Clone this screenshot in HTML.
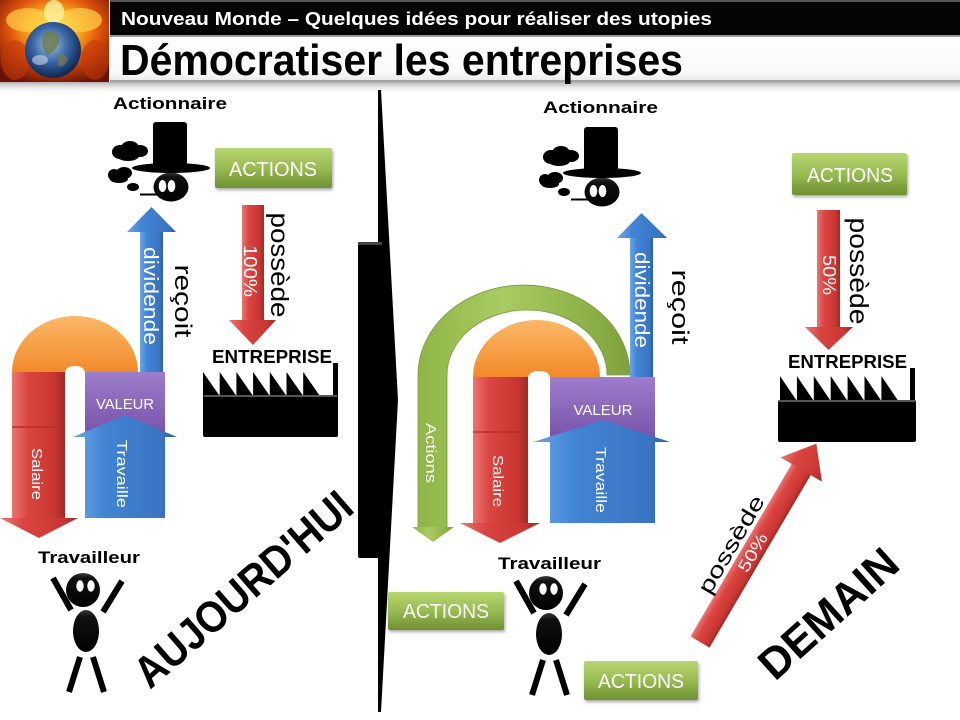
<!DOCTYPE html>
<html><head><meta charset="utf-8">
<style>html,body{margin:0;padding:0;background:#fff;}svg{display:block}</style>
</head>
<body>
<svg width="960" height="720" viewBox="0 0 960 720" xmlns="http://www.w3.org/2000/svg" xmlns:xlink="http://www.w3.org/1999/xlink" font-family="'Liberation Sans', sans-serif">
<defs>
  <linearGradient id="gRedH" x1="0" y1="0" x2="1" y2="0">
    <stop offset="0" stop-color="#ea7672"/><stop offset="0.3" stop-color="#db4541"/><stop offset="0.8" stop-color="#c93632"/><stop offset="1" stop-color="#a02a27"/>
  </linearGradient>
  <linearGradient id="gRedV" x1="0" y1="0" x2="0" y2="1">
    <stop offset="0" stop-color="#ea7672"/><stop offset="0.3" stop-color="#db4541"/><stop offset="0.8" stop-color="#c93632"/><stop offset="1" stop-color="#a02a27"/>
  </linearGradient>
  <linearGradient id="gBlueH" x1="0" y1="0" x2="1" y2="0">
    <stop offset="0" stop-color="#6aa6e8"/><stop offset="0.3" stop-color="#4284d4"/><stop offset="0.85" stop-color="#3a74c2"/><stop offset="1" stop-color="#2b5e9f"/>
  </linearGradient>
  <linearGradient id="gPurple" x1="0" y1="0" x2="0" y2="1">
    <stop offset="0" stop-color="#9d7ecb"/><stop offset="1" stop-color="#7550a8"/>
  </linearGradient>
  <linearGradient id="gOrange" x1="0" y1="0" x2="0" y2="1">
    <stop offset="0" stop-color="#fbb868"/><stop offset="1" stop-color="#f28a2a"/>
  </linearGradient>
  <linearGradient id="gGreen" x1="0" y1="0" x2="0" y2="1">
    <stop offset="0" stop-color="#b7d670"/><stop offset="0.5" stop-color="#98bb52"/><stop offset="1" stop-color="#6f9032"/>
  </linearGradient>
  <linearGradient id="gGreenH" x1="0" y1="0" x2="1" y2="0">
    <stop offset="0" stop-color="#8fb447"/><stop offset="0.4" stop-color="#a9cc62"/><stop offset="1" stop-color="#7fa23c"/>
  </linearGradient>
  <linearGradient id="gHead" x1="0" y1="0" x2="0" y2="1">
    <stop offset="0" stop-color="#3a3a3a"/><stop offset="0.15" stop-color="#111"/><stop offset="1" stop-color="#000"/>
  </linearGradient>
  <linearGradient id="gWhiteBand" x1="0" y1="0" x2="0" y2="1">
    <stop offset="0" stop-color="#ffffff"/><stop offset="0.8" stop-color="#fafafa"/><stop offset="1" stop-color="#e6e6e6"/>
  </linearGradient>
  <linearGradient id="gShadow" x1="0" y1="0" x2="0" y2="1">
    <stop offset="0" stop-color="#b0b0b0"/><stop offset="1" stop-color="#ffffff" stop-opacity="0"/>
  </linearGradient>
  <radialGradient id="gFire" cx="0.5" cy="0.35" r="0.7">
    <stop offset="0" stop-color="#fff3a0"/><stop offset="0.3" stop-color="#ffb020"/><stop offset="0.6" stop-color="#e0520c"/><stop offset="1" stop-color="#6a1204"/>
  </radialGradient>
  <radialGradient id="gGlobe" cx="0.45" cy="0.4" r="0.6">
    <stop offset="0" stop-color="#a8c4e0"/><stop offset="0.5" stop-color="#3c6aa8"/><stop offset="1" stop-color="#0d2552"/>
  </radialGradient>
  <filter id="sh" x="-20%" y="-20%" width="140%" height="150%">
    <feDropShadow dx="1" dy="2" stdDeviation="1.5" flood-color="#000" flood-opacity="0.35"/>
  </filter>

  <g id="boss">
    <ellipse cx="120" cy="152" rx="8" ry="7"/>
    <ellipse cx="130" cy="148" rx="9" ry="7"/>
    <ellipse cx="140" cy="151" rx="8" ry="6"/>
    <ellipse cx="128" cy="156" rx="11" ry="5"/>
    <ellipse cx="114" cy="175" rx="6" ry="6"/>
    <ellipse cx="124" cy="173" rx="8" ry="6"/>
    <ellipse cx="119" cy="179" rx="9" ry="4"/>
    <ellipse cx="133" cy="187" rx="6" ry="4"/>
    <ellipse cx="171" cy="187" rx="17.5" ry="14.5" fill="url(#gHead)"/>
    <rect x="153" y="122" width="34" height="46" rx="3"/>
    <ellipse cx="171" cy="168" rx="39" ry="5"/>
    <ellipse cx="162.5" cy="186" rx="3.8" ry="6" fill="#fff"/>
    <ellipse cx="171.5" cy="186" rx="3.8" ry="6" fill="#fff"/>
    <line x1="140" y1="194.5" x2="158" y2="194.5" stroke="#000" stroke-width="2"/>
  </g>

  <g id="worker">
    <circle cx="83" cy="590" r="17" fill="url(#gHead)"/>
    <ellipse cx="80" cy="586" rx="3.7" ry="5.7" fill="#fff"/>
    <ellipse cx="91" cy="586" rx="3.7" ry="5.7" fill="#fff"/>
    <line x1="53" y1="578" x2="71" y2="610" stroke="#000" stroke-width="6"/>
    <line x1="122" y1="581" x2="103" y2="612" stroke="#000" stroke-width="6"/>
    <ellipse cx="86" cy="631" rx="13" ry="21" fill="url(#gHead)"/>
    <line x1="80" y1="657" x2="69" y2="692" stroke="#000" stroke-width="6"/>
    <line x1="93" y1="657" x2="104" y2="692" stroke="#000" stroke-width="6"/>
  </g>
</defs>

<rect x="0" y="0" width="960" height="720" fill="#fff"/>

<!-- HEADER -->
<rect x="0" y="82" width="960" height="12" fill="url(#gShadow)"/>
<rect x="110" y="0" width="850" height="35" fill="#050505"/>
<rect x="110" y="0" width="850" height="2" fill="#555"/>
<rect x="110" y="35" width="850" height="47" fill="url(#gWhiteBand)"/>
<rect x="110" y="35" width="850" height="2" fill="#9a9a9a"/>
<rect x="110" y="80" width="850" height="2" fill="#a0a0a0"/>
<text x="121" y="25" fill="#fff" font-weight="bold" font-size="18" textLength="591" lengthAdjust="spacingAndGlyphs">Nouveau Monde – Quelques idées pour réaliser des utopies</text>
<text x="120" y="75" fill="#000" font-weight="bold" font-size="44" textLength="563" lengthAdjust="spacingAndGlyphs">Démocratiser les entreprises</text>

<!-- LOGO -->
<rect x="0" y="0" width="109" height="82" fill="url(#gFire)"/>
<ellipse cx="28" cy="20" rx="22" ry="12" fill="#ffd24a" opacity="0.7"/>
<ellipse cx="80" cy="20" rx="22" ry="12" fill="#ffd24a" opacity="0.7"/>
<ellipse cx="54" cy="12" rx="10" ry="12" fill="#fff2a0" opacity="0.8"/>
<ellipse cx="15" cy="60" rx="14" ry="20" fill="#c23a0a" opacity="0.6"/>
<ellipse cx="95" cy="60" rx="14" ry="20" fill="#c23a0a" opacity="0.6"/>
<circle cx="53" cy="50" r="28" fill="url(#gGlobe)"/>
<path d="M45,32 Q55,28 60,38 Q58,48 52,52 Q46,58 44,50 Q40,42 45,32 Z" fill="#6d7a4a" opacity="0.8"/>
<path d="M58,55 Q66,52 68,60 Q64,68 58,66 Z" fill="#7a7a52" opacity="0.7"/>
<ellipse cx="40" cy="60" rx="8" ry="5" fill="#e8eef6" opacity="0.5"/>

<!-- DIVIDER -->
<path d="M378,90 L381,90 L398,400 L381,712 L378,712 Z" fill="#000"/>
<rect x="358" y="242" width="26" height="316" rx="2" fill="#000"/>
<rect x="358" y="242" width="24" height="3" fill="#444"/>

<!-- ========== LEFT PANEL ========== -->
<text x="113" y="109" font-weight="bold" font-size="17" textLength="114" lengthAdjust="spacingAndGlyphs">Actionnaire</text>
<use xlink:href="#boss" href="#boss"/>

<!-- ACTIONS button -->
<rect x="215" y="148" width="117" height="40" rx="2" fill="url(#gGreen)" filter="url(#sh)"/>
<text x="229" y="176" fill="#fff" font-size="20" textLength="88" lengthAdjust="spacingAndGlyphs">ACTIONS</text>

<!-- red 100% arrow -->
<rect x="242" y="205" width="22" height="117" fill="url(#gRedH)"/>
<polygon points="229,320 253,345 276,320" fill="url(#gRedH)"/>
<text transform="translate(250,271) rotate(90)" text-anchor="middle" y="6" fill="#fff" font-size="18" textLength="52" lengthAdjust="spacingAndGlyphs">100%</text>
<text transform="translate(278,265) rotate(90)" text-anchor="middle" y="7" fill="#000" font-size="25" textLength="105" lengthAdjust="spacingAndGlyphs">possède</text>

<!-- Entreprise left -->
<text x="212" y="363" font-weight="bold" font-size="18" textLength="120" lengthAdjust="spacingAndGlyphs">ENTREPRISE</text>
<g fill="#000">
  <polygon points="203,372 203,396 219.7,396"/>
  <polygon points="219.7,372 219.7,396 236.4,396"/>
  <polygon points="236.4,372 236.4,396 253.1,396"/>
  <polygon points="253.1,372 253.1,396 269.8,396"/>
  <polygon points="269.8,372 269.8,396 286.5,396"/>
  <polygon points="286.5,372 286.5,396 303.2,396"/>
  <polygon points="303.2,372 303.2,396 319.9,396"/>
  <rect x="333" y="363" width="5" height="34"/>
  <rect x="203" y="395" width="135" height="42" rx="2"/>
</g>
<rect x="204" y="395" width="133" height="2" fill="#555"/>

<!-- dome + arrows -->
<path d="M12,372 A63,56 0 0 1 138,372 Z" fill="url(#gOrange)"/>
<rect x="140" y="231" width="23" height="142" fill="url(#gBlueH)"/>
<polygon points="127,232 151.5,207 176,232" fill="url(#gBlueH)"/>
<text transform="translate(150,296) rotate(90)" text-anchor="middle" y="6" fill="#fff" font-size="20" textLength="98" lengthAdjust="spacingAndGlyphs">dividende</text>
<text transform="translate(182,301) rotate(90)" text-anchor="middle" y="7" fill="#000" font-size="24" textLength="73" lengthAdjust="spacingAndGlyphs">reçoit</text>

<rect x="12" y="372" width="53" height="147" fill="url(#gRedH)"/>
<rect x="12" y="426" width="53" height="2" fill="#b02e2a" opacity="0.7"/>
<polygon points="0,518 78,518 39,538" fill="url(#gRedH)"/>
<path d="M65,374 Q65,366 75,366 Q85,366 85,374 Z" fill="#fff"/>
<text transform="translate(37,474) rotate(90)" text-anchor="middle" y="5" fill="#fff" font-size="15" textLength="52" lengthAdjust="spacingAndGlyphs">Salaire</text>

<rect x="85" y="372" width="80" height="66" fill="url(#gPurple)"/>
<polygon points="73,437 125,415 177,437 165,437 165,518 85,518 85,437" fill="url(#gBlueH)"/>
<text x="125" y="409" text-anchor="middle" fill="#fff" font-size="15" textLength="58" lengthAdjust="spacingAndGlyphs">VALEUR</text>
<text transform="translate(122,474) rotate(90)" text-anchor="middle" y="5" fill="#fff" font-size="15" textLength="68" lengthAdjust="spacingAndGlyphs">Travaille</text>

<!-- worker left -->
<text x="38" y="563" font-weight="bold" font-size="17" textLength="102" lengthAdjust="spacingAndGlyphs">Travailleur</text>
<use xlink:href="#worker" href="#worker"/>

<text transform="translate(150,690) rotate(-41)" font-weight="bold" font-size="44" textLength="273" lengthAdjust="spacingAndGlyphs">AUJOURD'HUI</text>

<!-- ========== RIGHT PANEL ========== -->
<text x="543" y="113" font-weight="bold" font-size="17" textLength="115" lengthAdjust="spacingAndGlyphs">Actionnaire</text>
<g transform="translate(431,5)"><use xlink:href="#boss" href="#boss"/></g>

<!-- green arch -->
<path d="M418,528 L418,375 A106,90 0 0 1 630,375 L607,375 A80,65 0 0 0 447,375 L447,528 Z" fill="url(#gGreenH)" stroke="#7a9a3a" stroke-width="0.8"/>
<polygon points="412,527 454,527 433,542" fill="url(#gGreenH)"/>
<text transform="translate(431,453) rotate(90)" text-anchor="middle" y="5" fill="#fff" font-size="15" textLength="60" lengthAdjust="spacingAndGlyphs">Actions</text>

<path d="M473,377 A63.5,57 0 0 1 600,377 Z" fill="url(#gOrange)"/>
<rect x="630" y="237" width="23" height="141" fill="url(#gBlueH)"/>
<polygon points="617,238 641.5,213 667,238" fill="url(#gBlueH)"/>
<text transform="translate(641,300) rotate(90)" text-anchor="middle" y="6" fill="#fff" font-size="20" textLength="96" lengthAdjust="spacingAndGlyphs">dividende</text>
<text transform="translate(679,307) rotate(90)" text-anchor="middle" y="7" fill="#000" font-size="24" textLength="75" lengthAdjust="spacingAndGlyphs">reçoit</text>

<rect x="473" y="377" width="55" height="147" fill="url(#gRedH)"/>
<rect x="473" y="431" width="55" height="2" fill="#b02e2a" opacity="0.7"/>
<polygon points="460,523 540,523 500,543" fill="url(#gRedH)"/>
<path d="M528,379 Q528,371 539,371 Q550,371 550,379 Z" fill="#fff"/>
<text transform="translate(498,481) rotate(90)" text-anchor="middle" y="5" fill="#fff" font-size="15" textLength="52" lengthAdjust="spacingAndGlyphs">Salaire</text>

<rect x="550" y="377" width="105" height="66" fill="url(#gPurple)"/>
<polygon points="533,442 603,420 670,442 655,442 655,523 550,523 550,442" fill="url(#gBlueH)"/>
<text x="603" y="415" text-anchor="middle" fill="#fff" font-size="15" textLength="59" lengthAdjust="spacingAndGlyphs">VALEUR</text>
<text transform="translate(601,480) rotate(90)" text-anchor="middle" y="5" fill="#fff" font-size="15" textLength="66" lengthAdjust="spacingAndGlyphs">Travaille</text>

<!-- right top actions + arrow -->
<rect x="792" y="153" width="115" height="42" rx="2" fill="url(#gGreen)" filter="url(#sh)"/>
<text x="807" y="182" fill="#fff" font-size="20" textLength="86" lengthAdjust="spacingAndGlyphs">ACTIONS</text>
<rect x="817" y="210" width="23" height="118" fill="url(#gRedH)"/>
<polygon points="805,327 853,327 828.5,350" fill="url(#gRedH)"/>
<text transform="translate(829,275) rotate(90)" text-anchor="middle" y="6" fill="#fff" font-size="18" textLength="40" lengthAdjust="spacingAndGlyphs">50%</text>
<text transform="translate(857,271) rotate(90)" text-anchor="middle" y="7" fill="#000" font-size="26" textLength="107" lengthAdjust="spacingAndGlyphs">possède</text>

<!-- Entreprise right -->
<text x="788" y="368" font-weight="bold" font-size="18" textLength="119" lengthAdjust="spacingAndGlyphs">ENTREPRISE</text>
<g fill="#000">
  <polygon points="780,376 780,401 796.9,401"/>
  <polygon points="796.9,376 796.9,401 813.8,401"/>
  <polygon points="813.8,376 813.8,401 830.7,401"/>
  <polygon points="830.7,376 830.7,401 847.6,401"/>
  <polygon points="847.6,376 847.6,401 864.5,401"/>
  <polygon points="864.5,376 864.5,401 881.4,401"/>
  <polygon points="881.4,376 881.4,401 898.3,401"/>
  <rect x="910" y="368" width="5" height="33"/>
  <rect x="778" y="400" width="138" height="42" rx="2"/>
</g>
<rect x="779" y="400" width="136" height="2" fill="#555"/>

<!-- worker right -->
<text x="498" y="569" font-weight="bold" font-size="17" textLength="103" lengthAdjust="spacingAndGlyphs">Travailleur</text>
<g transform="translate(463,3)"><use xlink:href="#worker" href="#worker"/></g>

<!-- bottom actions buttons -->
<rect x="388" y="592" width="116" height="38" rx="2" fill="url(#gGreen)" filter="url(#sh)"/>
<text x="403" y="618" fill="#fff" font-size="20" textLength="86" lengthAdjust="spacingAndGlyphs">ACTIONS</text>
<rect x="584" y="661" width="114" height="39" rx="2" fill="url(#gGreen)" filter="url(#sh)"/>
<text x="598" y="688" fill="#fff" font-size="20" textLength="86" lengthAdjust="spacingAndGlyphs">ACTIONS</text>

<!-- diagonal arrow -->
<g transform="translate(700,642) rotate(-59.6)">
  <rect x="0" y="-11" width="202" height="22" fill="url(#gRedV)"/>
  <polygon points="200,-24 230,0 200,24" fill="url(#gRedV)"/>
  <text x="100" y="-15" text-anchor="middle" fill="#000" font-size="22" textLength="110" lengthAdjust="spacingAndGlyphs">possède</text>
  <text x="104" y="6" text-anchor="middle" fill="#fff" font-size="17" textLength="42" lengthAdjust="spacingAndGlyphs">50%</text>
</g>

<text transform="translate(775,682) rotate(-42)" font-weight="bold" font-size="44" textLength="171" lengthAdjust="spacingAndGlyphs">DEMAIN</text>

</svg>
</body></html>
